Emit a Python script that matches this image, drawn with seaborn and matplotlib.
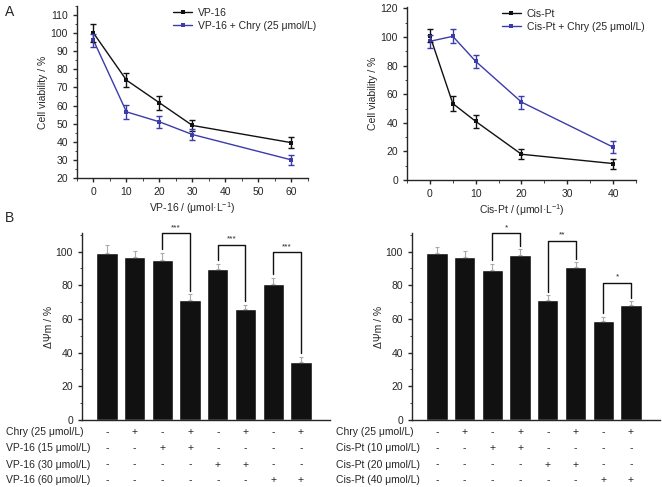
import numpy as np
import matplotlib
matplotlib.use("Agg")
import matplotlib.pyplot as plt
from matplotlib.ticker import MultipleLocator
import seaborn as sns

# ------------------ DATA ------------------
vp_dose = [0, 10, 20, 30, 60]
vp_alone = [100, 74, 61.5, 49, 39.5]
vp_alone_err = [5, 4, 4, 3, 3]
vp_chry = [96, 56.5, 51, 44, 30]
vp_chry_err = [3.7, 3.7, 3.4, 3.2, 2.8]

cis_dose = [0, 5, 10, 20, 40]
cis_alone = [101, 53.5, 41, 18, 11.5]
cis_alone_err = [4.5, 5, 4.5, 3.5, 3.5]
cis_chry = [97, 100.5, 83, 54.5, 23]
cis_chry_err = [4.5, 5, 4.5, 4.5, 4]

vp_bars = [99.2, 96.6, 95.2, 71.2, 89.7, 65.7, 80.8, 34.5]
vp_bars_err = [4.8, 4, 4, 3.4, 3, 2.8, 3.6, 3]
cis_bars = [99.2, 96.6, 88.9, 98, 71, 90.7, 58.5, 68.5]
cis_bars_err = [3.6, 4, 3.8, 3.2, 3, 3, 2.8, 2]

vp_rows = ["Chry (25 μmol/L)", "VP-16 (15 μmol/L)", "VP-16 (30 μmol/L)", "VP-16 (60 μmol/L)"]
cis_rows = ["Chry (25 μmol/L)", "Cis-Pt (10 μmol/L)", "Cis-Pt (20 μmol/L)", "Cis-Pt (40 μmol/L)"]
signs = [
    "-+-+-+-+",
    "--++----",
    "----++--",
    "------++",
]

vp_pairs = [(2, 3), (4, 5), (6, 7)]
vp_stars = ["***", "***", "***"]
vp_bracket_top = [111, 104, 99.5]
cis_pairs = [(2, 3), (4, 5), (6, 7)]
cis_stars = ["*", "**", "*"]
cis_bracket_top = [111, 106.5, 81.5]

# ------------------ STYLE ------------------
sns.set_style("ticks")
plt.rcParams['font.family'] = ['Liberation Sans', 'DejaVu Sans']
plt.rcParams['font.size'] = 7
plt.rcParams['axes.linewidth'] = 1.0
plt.rcParams['xtick.major.width'] = 1.0
plt.rcParams['ytick.major.width'] = 1.0
plt.rcParams['xtick.major.size'] = 3
plt.rcParams['ytick.major.size'] = 3
plt.rcParams['xtick.minor.size'] = 1.8
plt.rcParams['ytick.minor.size'] = 1.8
plt.rcParams['xtick.labelsize'] = 7.5
plt.rcParams['ytick.labelsize'] = 7.5

BLACK = "#111111"
BLUE = "#3b3baa"

fig = plt.figure(figsize=(6.62, 4.87), dpi=100)


def line_panel(ax, dose, a, a_err, b, b_err, name):
    sns.lineplot(x=dose, y=a, ax=ax, color=BLACK, marker="s", markersize=3,
                 markeredgewidth=0, linewidth=1, label=name)
    sns.lineplot(x=dose, y=b, ax=ax, color=BLUE, marker="s", markersize=3,
                 markeredgewidth=0, linewidth=1, label=name + " + Chry (25 μmol/L)")
    ax.errorbar(dose, a, yerr=a_err, fmt="none", ecolor=BLACK, elinewidth=1, capsize=2, capthick=1)
    ax.errorbar(dose, b, yerr=b_err, fmt="none", ecolor=BLUE, elinewidth=1, capsize=2, capthick=1)
    ax.set_ylabel("Cell viability / %", fontsize=7.5, labelpad=2)
    ax.set_xlabel(name + " / (μmol·L$^{\\mathregular{-1}}$)", fontsize=7.5, labelpad=2)
    ax.legend(loc="upper right", frameon=False, fontsize=7.5, handlelength=1.8,
              handletextpad=0.6, borderaxespad=0.1, labelspacing=0.3,
              bbox_to_anchor=(1.06, 1.02))
    sns.despine(ax=ax)


def bar_panel(ax, vals, errs, rows, pairs, stars, tops):
    x = np.arange(len(vals))
    sns.barplot(x=x, y=vals, ax=ax, color=BLACK, width=0.77, saturation=1, native_scale=True)
    ax.errorbar(x, vals, yerr=[np.zeros(len(errs)), errs], fmt="none",
                ecolor="#aaaaaa", elinewidth=0.8, capsize=1.5, capthick=0.8)
    ax.set_xlim(-0.9, 8.05)
    ax.set_ylim(0, 111)
    ax.yaxis.set_major_locator(MultipleLocator(20))
    ax.yaxis.set_minor_locator(MultipleLocator(10))
    ax.set_xticks([])
    ax.set_ylabel("ΔΨm / %", fontsize=7.5, labelpad=1)
    sns.despine(ax=ax)
    for (i, j), s, top in zip(pairs, stars, tops):
        ax.plot([i, i, j, j], [vals[i] + errs[i] + 2, top, top, vals[j] + errs[j] + 2],
                color=BLACK, lw=1, clip_on=False)
        ax.text((i + j) / 2, top + 1.2, s, ha="center", va="bottom", fontsize=6)
    # +/- table under bars
    pos = ax.get_position()
    row_y = [0.113, 0.080, 0.046, 0.015]
    for r, (lab, pat) in enumerate(zip(rows, signs)):
        fig.text(pos.x0 - 0.115, row_y[r], lab, ha="left", va="center", fontsize=7.5)
        for k, ch in enumerate(pat):
            xf = fig.transFigure.inverted().transform(ax.transData.transform((k, 0)))[0]
            fig.text(xf, row_y[r], ch, ha="center", va="center", fontsize=7.5)


# ------------------ A: VP-16 ------------------
ax1 = fig.add_axes([0.1163, 0.6345, 0.3487, 0.3535])
line_panel(ax1, vp_dose, vp_alone, vp_alone_err, vp_chry, vp_chry_err, "VP-16")
ax1.set_xlim(-5, 65)
ax1.set_ylim(20, 115)
ax1.set_xticks([0, 10, 20, 30, 40, 50, 60])
ax1.xaxis.set_minor_locator(MultipleLocator(5))
ax1.yaxis.set_major_locator(MultipleLocator(10))
ax1.yaxis.set_minor_locator(MultipleLocator(5))

# ------------------ A: Cis-Pt ------------------
ax2 = fig.add_axes([0.6148, 0.6304, 0.3459, 0.3552])
line_panel(ax2, cis_dose, cis_alone, cis_alone_err, cis_chry, cis_chry_err, "Cis-Pt")
ax2.set_xlim(-5, 45)
ax2.set_ylim(0, 121)
ax2.set_xticks([0, 10, 20, 30, 40])
ax2.xaxis.set_minor_locator(MultipleLocator(5))
ax2.yaxis.set_major_locator(MultipleLocator(20))
ax2.yaxis.set_minor_locator(MultipleLocator(10))

# ------------------ B ------------------
ax3 = fig.add_axes([0.1239, 0.1376, 0.3746, 0.384])
bar_panel(ax3, vp_bars, vp_bars_err, vp_rows, vp_pairs, vp_stars, vp_bracket_top)

ax4 = fig.add_axes([0.6224, 0.1376, 0.3746, 0.384])
bar_panel(ax4, cis_bars, cis_bars_err, cis_rows, cis_pairs, cis_stars, cis_bracket_top)

fig.text(0.008, 0.975, "A", fontsize=10, va="center")
fig.text(0.008, 0.552, "B", fontsize=10, va="center")

plt.savefig("out.png", dpi=100)
